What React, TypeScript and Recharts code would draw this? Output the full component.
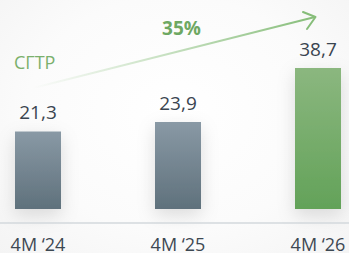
import { BarChart, Bar, XAxis, YAxis, Cell, LabelList } from "recharts"

const periods = ["4M ‘24", "4M ‘25", "4M ‘26"]
const values = [21.3, 23.9, 38.7]
const fills = ["url(#gradGrey)", "url(#gradGrey)", "url(#gradGreen)"]
const growthLabel = "35%"
const cagrLabel = "СГТР"

const data = periods.map((p, i) => ({ period: p, value: values[i] }))

const fmt = (v: any) => String(v).replace(".", ",")

export default function App() {
  return (
    <div
      style={{
        position: "absolute",
        left: 0,
        top: 0,
        width: 349,
        height: 253,
        overflow: "hidden",
        background: "radial-gradient(ellipse at 50% 45%, #ffffff 0%, #fbfbfb 60%, #f4f4f4 100%)",
        fontFamily: "'Open Sans', sans-serif",
      }}
    >
      <BarChart
        width={349}
        height={253}
        data={data}
        margin={{ top: 45, right: -39, bottom: 0, left: -32 }}
      >
        <defs>
          <linearGradient id="gradGrey" x1="0" y1="0" x2="0" y2="1">
            <stop offset="0%" stopColor="#8999a5" />
            <stop offset="100%" stopColor="#5f717c" />
          </linearGradient>
          <linearGradient id="gradGreen" x1="0" y1="0" x2="0" y2="1">
            <stop offset="0%" stopColor="#8bb77f" />
            <stop offset="100%" stopColor="#63a259" />
          </linearGradient>
          <filter id="barShadow" x="-60%" y="-20%" width="220%" height="150%">
            <feDropShadow dx="0" dy="6" stdDeviation="9" floodColor="#000" floodOpacity="0.13" />
          </filter>
        </defs>
        <XAxis
          dataKey="period"
          axisLine={{ stroke: "#d3d9dd", strokeWidth: 1.5 }}
          tickLine={false}
          tickMargin={9}
          tick={{ fill: "#3d4852", fontSize: 18 }}
          interval={0}
        />
        <YAxis hide domain={[-3.84, 45]} />
        <Bar dataKey="value" barSize={46} isAnimationActive={false}>
          {data.map((_, i) => (
            <Cell key={i} fill={fills[i]} filter="url(#barShadow)" />
          ))}
          <LabelList
            dataKey="value"
            position="top"
            offset={12}
            formatter={fmt}
            style={{ fill: "#3a4550", fontSize: 19 }}
          />
        </Bar>
      </BarChart>
      <svg
        width={349}
        height={253}
        style={{ position: "absolute", left: 0, top: 0, pointerEvents: "none" }}
      >
        <defs>
          <linearGradient id="arrowGrad" x1="33" y1="88" x2="316" y2="17" gradientUnits="userSpaceOnUse">
            <stop offset="0%" stopColor="#8cc280" stopOpacity="0" />
            <stop offset="100%" stopColor="#86bd79" stopOpacity="1" />
          </linearGradient>
        </defs>
        <line x1={33} y1={88} x2={315} y2={17} stroke="url(#arrowGrad)" strokeWidth={2} />
        <polyline
          points="303,12 315.5,17 307,29"
          fill="none"
          stroke="#86bd79"
          strokeWidth={2}
          strokeLinecap="round"
          strokeLinejoin="round"
        />
        <text x={181.5} y={35} textAnchor="middle" fill="#6ea862" fontSize={19} fontWeight={700}>
          {growthLabel}
        </text>
        <text x={14} y={69} fill="#7ab06c" fontSize={18}>
          {cagrLabel}
        </text>
      </svg>
    </div>
  )
}
